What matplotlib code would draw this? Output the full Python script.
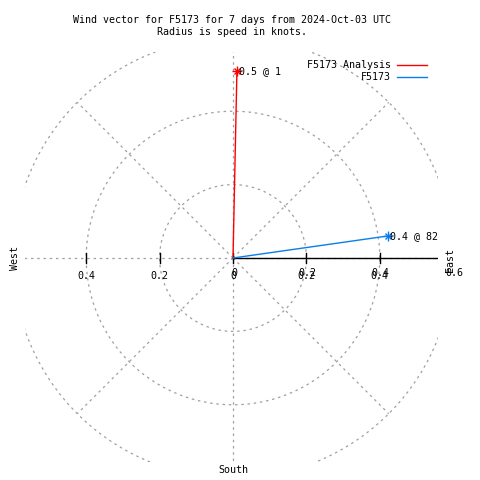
import numpy as np
import matplotlib
matplotlib.use("Agg")
import matplotlib.pyplot as plt

# wind vectors: speed in knots, direction in compass degrees
series = ["F5173 Analysis", "F5173"]
speeds = [0.51, 0.427]
directions = [1.2, 81.9]
colors = ["#ff0000", "#0a7ee8"]

rings = [0.2, 0.4, 0.6]
spoke_angles = [0, 45, 90, 135, 180, 225, 270, 315]
left_ticks = [-0.4, -0.2, 0.0, 0.2, 0.4]
right_ticks = [0.0, 0.2, 0.4, 0.6]

title = "Wind vector for F5173 for 7 days from 2024-Oct-03 UTC\nRadius is speed in knots."

plt.rcParams['font.family'] = ['DejaVu Sans Mono']
fs = 7.2
px = 1.0 / 367  # data units per pixel

fig = plt.figure(figsize=(4.8, 4.8), dpi=100)
ax = fig.add_axes([25 / 480, 18 / 480, 413 / 480, 410 / 480])
ax.set_xlim(-208 * px, 205 * px)
ax.set_ylim(-204 * px, 206 * px)
ax.set_aspect('equal')
ax.axis('off')

grid_kw = dict(color='#a0a0a0', lw=0.9, ls=(0, (2, 3)), zorder=1)
t = np.linspace(0, 2 * np.pi, 400)
for r in rings:
    ax.plot(r * np.cos(t), r * np.sin(t), **grid_kw)
for a in spoke_angles:
    rad = np.deg2rad(a)
    ax.plot([0, rings[-1] * np.cos(rad)], [0, rings[-1] * np.sin(rad)], **grid_kw)

# polar axis
ax.plot([0, 1], [0, 0], color='black', lw=1, zorder=2)
for x in left_ticks:
    ax.plot([x, x], [-5 * px, 5 * px], color='black', lw=1, zorder=2)

# tick labels (drawn twice like the original)
for x in left_ticks:
    ax.text(x, -18 * px, f"{abs(x):g}", ha='center', va='center', fontsize=fs, clip_on=False)
for x in right_ticks:
    ax.text(x + 1 * px, -15 * px, f"{x:g}", ha='center', va='center', fontsize=fs, clip_on=False)

ax.text(-218 * px, 0, "West", rotation=90, ha='center', va='center', fontsize=fs, clip_on=False)
ax.text(217 * px, -2 * px, "East", rotation=90, ha='center', va='center', fontsize=fs, clip_on=False)
ax.text(0, -212 * px, "South", ha='center', va='center', fontsize=fs, clip_on=False)

for name, s, d, c in zip(series, speeds, directions, colors):
    rad = np.deg2rad(d)
    x, y = s * np.sin(rad), s * np.cos(rad)
    ax.plot([0, x], [0, y], color=c, lw=1, zorder=3, label=name)
    ax.plot([x], [y], marker='+', color=c, ms=7, mew=1, zorder=4)
    ax.plot([x], [y], marker='x', color=c, ms=5, mew=1, zorder=4)
    ax.text(x + 2 * px, y, f"{s:.1f} @ {d:.0f}", ha='left', va='center', fontsize=fs, zorder=5)

fig.text(232 / 480, 1 - 26 / 480, title, ha='center', va='center', fontsize=fs, linespacing=1.35)

leg = ax.legend(loc='upper right', bbox_to_anchor=(432 / 480, 1 - 55 / 480),
                bbox_transform=fig.transFigure, frameon=False, fontsize=fs,
                markerfirst=False, handlelength=3.0, handletextpad=0.6,
                labelspacing=0.25, borderpad=0)
for txt in leg.get_texts():
    txt.set_ha('right')

fig.savefig("out.png", dpi=100)
